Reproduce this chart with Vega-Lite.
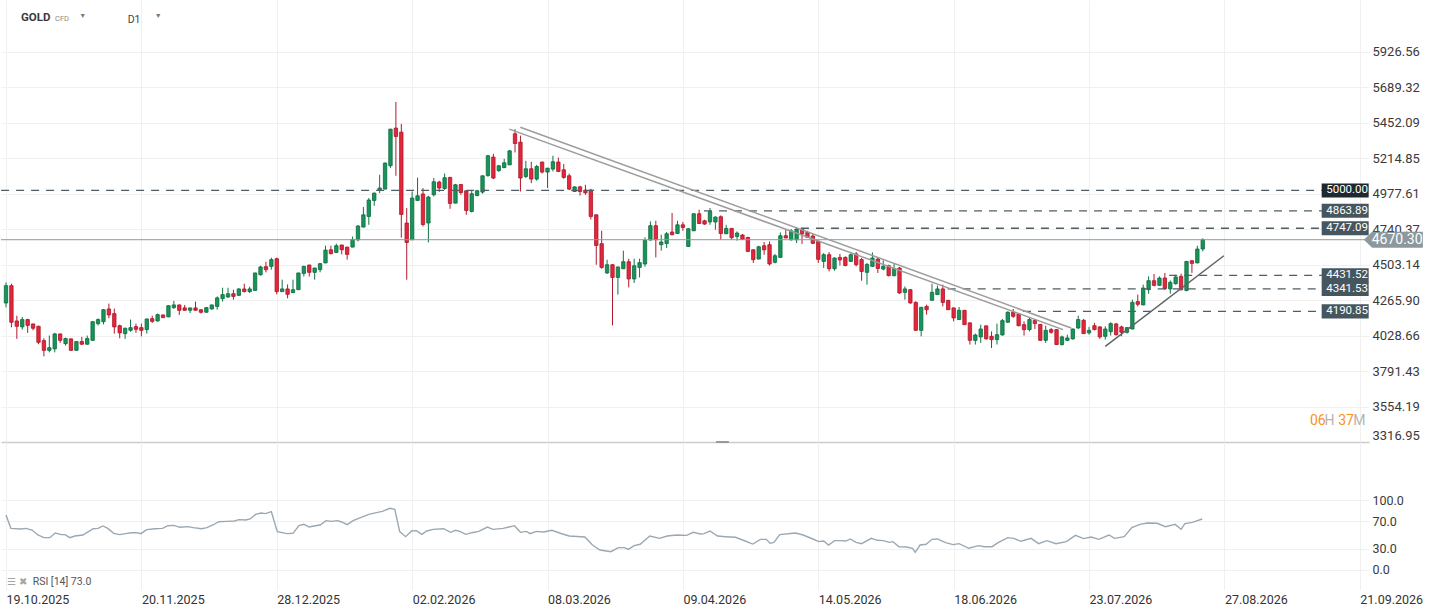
{
  "$schema": "https://vega.github.io/schema/vega-lite/v6.json",
  "description": "GOLD CFD D1 candlestick chart with RSI panel",
  "padding": 0,
  "background": "white",
  "bounds": "flush",
  "spacing": 0,
  "config": {
    "view": {"stroke": null},
    "font": "Roboto",
    "scale": {"continuousPadding": 0},
    "axis": {"grid": true, "gridColor": "#f0f0f0", "ticks": false, "domain": false, "labelFont": "Roboto", "labelFontSize": 13, "labelColor": "#3a3a3a"}
  },
  "datasets": {
    "candles": [
      {"i":0,"o":4247,"h":4385,"l":4218,"c":4363},{"i":1,"o":4363,"h":4376,"l":4084,"c":4118},{"i":2,"o":4127,"h":4162,"l":4007,"c":4091},{"i":3,"o":4087,"h":4154,"l":4069,"c":4136},{"i":4,"o":4136,"h":4142,"l":4047,"c":4097},
      {"i":5,"o":4107,"h":4109,"l":4064,"c":4078},{"i":6,"o":4091,"h":4095,"l":3971,"c":3984},{"i":7,"o":3995,"h":4011,"l":3890,"c":3930},{"i":8,"o":3930,"h":4029,"l":3917,"c":3948},{"i":9,"o":3940,"h":4047,"l":3917,"c":4040},
      {"i":10,"o":4040,"h":4042,"l":3980,"c":3997},{"i":11,"o":3975,"h":4015,"l":3962,"c":4009},{"i":12,"o":4007,"h":4009,"l":3928,"c":3930},{"i":13,"o":3930,"h":3990,"l":3928,"c":3989},{"i":14,"o":3989,"h":4020,"l":3968,"c":3971},
      {"i":15,"o":3971,"h":4029,"l":3968,"c":4009},{"i":16,"o":3997,"h":4124,"l":3995,"c":4122},{"i":17,"o":4109,"h":4144,"l":4097,"c":4136},{"i":18,"o":4122,"h":4207,"l":4104,"c":4202},{"i":19,"o":4207,"h":4243,"l":4144,"c":4167},
      {"i":20,"o":4176,"h":4210,"l":4042,"c":4087},{"i":21,"o":4095,"h":4102,"l":4011,"c":4047},{"i":22,"o":4042,"h":4082,"l":4007,"c":4078},{"i":23,"o":4064,"h":4136,"l":4055,"c":4082},{"i":24,"o":4089,"h":4109,"l":4047,"c":4071},
      {"i":25,"o":4082,"h":4109,"l":4024,"c":4064},{"i":26,"o":4069,"h":4142,"l":4042,"c":4140},{"i":27,"o":4142,"h":4162,"l":4114,"c":4124},{"i":28,"o":4127,"h":4176,"l":4122,"c":4169},{"i":29,"o":4167,"h":4169,"l":4147,"c":4149},
      {"i":30,"o":4154,"h":4231,"l":4152,"c":4229},{"i":31,"o":4216,"h":4261,"l":4207,"c":4234},{"i":32,"o":4234,"h":4236,"l":4167,"c":4198},{"i":33,"o":4214,"h":4234,"l":4196,"c":4198},{"i":34,"o":4198,"h":4215,"l":4180,"c":4214},
      {"i":35,"o":4214,"h":4256,"l":4196,"c":4198},{"i":36,"o":4202,"h":4204,"l":4176,"c":4185},{"i":37,"o":4185,"h":4218,"l":4183,"c":4216},{"i":38,"o":4207,"h":4236,"l":4202,"c":4234},{"i":39,"o":4224,"h":4291,"l":4202,"c":4281},
      {"i":40,"o":4276,"h":4349,"l":4256,"c":4303},{"i":41,"o":4287,"h":4349,"l":4281,"c":4309},{"i":42,"o":4309,"h":4336,"l":4269,"c":4291},{"i":43,"o":4298,"h":4345,"l":4296,"c":4341},{"i":44,"o":4341,"h":4376,"l":4318,"c":4323},
      {"i":45,"o":4323,"h":4356,"l":4314,"c":4341},{"i":46,"o":4331,"h":4449,"l":4330,"c":4448},{"i":47,"o":4436,"h":4496,"l":4430,"c":4488},{"i":48,"o":4490,"h":4523,"l":4452,"c":4470},{"i":49,"o":4492,"h":4550,"l":4470,"c":4537},
      {"i":50,"o":4543,"h":4550,"l":4305,"c":4323},{"i":51,"o":4323,"h":4403,"l":4321,"c":4341},{"i":52,"o":4341,"h":4371,"l":4278,"c":4305},{"i":53,"o":4316,"h":4403,"l":4314,"c":4336},{"i":54,"o":4336,"h":4449,"l":4334,"c":4448},
      {"i":55,"o":4445,"h":4496,"l":4424,"c":4492},{"i":56,"o":4501,"h":4503,"l":4424,"c":4452},{"i":57,"o":4452,"h":4483,"l":4403,"c":4481},{"i":58,"o":4470,"h":4515,"l":4452,"c":4510},{"i":59,"o":4515,"h":4630,"l":4513,"c":4601},
      {"i":60,"o":4603,"h":4630,"l":4572,"c":4577},{"i":61,"o":4585,"h":4644,"l":4581,"c":4630},{"i":62,"o":4635,"h":4637,"l":4572,"c":4603},{"i":63,"o":4621,"h":4623,"l":4537,"c":4572},{"i":64,"o":4621,"h":4692,"l":4620,"c":4672},
      {"i":65,"o":4670,"h":4768,"l":4659,"c":4762},{"i":66,"o":4755,"h":4889,"l":4753,"c":4837},{"i":67,"o":4826,"h":4949,"l":4770,"c":4936},{"i":68,"o":4933,"h":4986,"l":4897,"c":4982},{"i":69,"o":5000,"h":5105,"l":4982,"c":5016},
      {"i":70,"o":5009,"h":5187,"l":5008,"c":5183},{"i":71,"o":5165,"h":5412,"l":5151,"c":5410},{"i":72,"o":5417,"h":5592,"l":5098,"c":5361},{"i":73,"o":5390,"h":5445,"l":4684,"c":4839},{"i":74,"o":4782,"h":4882,"l":4403,"c":4652},
      {"i":75,"o":4670,"h":4993,"l":4668,"c":4949},{"i":76,"o":4933,"h":5085,"l":4931,"c":4964},{"i":77,"o":4976,"h":5016,"l":4759,"c":4772},{"i":78,"o":4782,"h":4964,"l":4652,"c":4956},{"i":79,"o":4971,"h":5083,"l":4960,"c":5058},
      {"i":80,"o":5056,"h":5065,"l":4990,"c":5016},{"i":81,"o":5013,"h":5113,"l":5004,"c":5085},{"i":82,"o":5087,"h":5091,"l":4877,"c":4913},{"i":83,"o":4915,"h":5044,"l":4914,"c":5038},{"i":84,"o":5040,"h":5042,"l":4971,"c":4986},
      {"i":85,"o":4998,"h":5000,"l":4837,"c":4866},{"i":86,"o":4859,"h":5004,"l":4853,"c":4978},{"i":87,"o":4966,"h":5004,"l":4960,"c":4998},{"i":88,"o":4989,"h":5100,"l":4978,"c":5098},{"i":89,"o":5100,"h":5238,"l":5091,"c":5232},
      {"i":90,"o":5223,"h":5245,"l":5076,"c":5083},{"i":91,"o":5133,"h":5171,"l":5123,"c":5165},{"i":92,"o":5153,"h":5212,"l":5149,"c":5185},{"i":93,"o":5171,"h":5270,"l":5170,"c":5265},{"i":94,"o":5379,"h":5410,"l":5254,"c":5314},
      {"i":95,"o":5323,"h":5367,"l":4993,"c":5083},{"i":96,"o":5093,"h":5198,"l":5083,"c":5145},{"i":97,"o":5145,"h":5192,"l":5049,"c":5076},{"i":98,"o":5076,"h":5171,"l":5065,"c":5160},{"i":99,"o":5190,"h":5192,"l":5113,"c":5123},
      {"i":100,"o":5123,"h":5151,"l":5016,"c":5149},{"i":101,"o":5143,"h":5232,"l":5127,"c":5192},{"i":102,"o":5190,"h":5220,"l":5123,"c":5127},{"i":103,"o":5138,"h":5176,"l":5078,"c":5087},{"i":104,"o":5098,"h":5113,"l":5002,"c":5009},
      {"i":105,"o":4993,"h":5026,"l":4991,"c":5024},{"i":106,"o":5024,"h":5031,"l":4966,"c":4993},{"i":107,"o":5002,"h":5038,"l":4971,"c":4984},{"i":108,"o":5002,"h":5011,"l":4806,"c":4826},{"i":109,"o":4837,"h":4840,"l":4503,"c":4632},
      {"i":110,"o":4644,"h":4730,"l":4476,"c":4485},{"i":111,"o":4448,"h":4537,"l":4441,"c":4503},{"i":112,"o":4503,"h":4508,"l":4097,"c":4418},{"i":113,"o":4418,"h":4490,"l":4303,"c":4488},{"i":114,"o":4476,"h":4597,"l":4475,"c":4523},
      {"i":115,"o":4523,"h":4543,"l":4351,"c":4408},{"i":116,"o":4408,"h":4543,"l":4381,"c":4496},{"i":117,"o":4485,"h":4543,"l":4418,"c":4517},{"i":118,"o":4508,"h":4686,"l":4490,"c":4666},{"i":119,"o":4668,"h":4793,"l":4666,"c":4764},
      {"i":120,"o":4764,"h":4797,"l":4552,"c":4670},{"i":121,"o":4637,"h":4704,"l":4597,"c":4655},{"i":122,"o":4645,"h":4722,"l":4615,"c":4710},{"i":123,"o":4722,"h":4849,"l":4699,"c":4704},{"i":124,"o":4712,"h":4797,"l":4708,"c":4770},
      {"i":125,"o":4770,"h":4789,"l":4730,"c":4752},{"i":126,"o":4625,"h":4746,"l":4623,"c":4744},{"i":127,"o":4730,"h":4846,"l":4728,"c":4844},{"i":128,"o":4844,"h":4871,"l":4775,"c":4779},{"i":129,"o":4797,"h":4804,"l":4770,"c":4775},
      {"i":130,"o":4789,"h":4882,"l":4770,"c":4859},{"i":131,"o":4789,"h":4826,"l":4737,"c":4822},{"i":132,"o":4824,"h":4833,"l":4670,"c":4712},{"i":133,"o":4710,"h":4770,"l":4709,"c":4746},{"i":134,"o":4746,"h":4748,"l":4670,"c":4684},
      {"i":135,"o":4692,"h":4726,"l":4664,"c":4715},{"i":136,"o":4702,"h":4708,"l":4668,"c":4672},{"i":137,"o":4686,"h":4688,"l":4588,"c":4592},{"i":138,"o":4603,"h":4605,"l":4515,"c":4537},{"i":139,"o":4541,"h":4630,"l":4539,"c":4623},
      {"i":140,"o":4630,"h":4655,"l":4570,"c":4603},{"i":141,"o":4637,"h":4659,"l":4498,"c":4508},{"i":142,"o":4519,"h":4575,"l":4512,"c":4563},{"i":143,"o":4552,"h":4719,"l":4548,"c":4697},{"i":144,"o":4697,"h":4737,"l":4680,"c":4682},
      {"i":145,"o":4670,"h":4742,"l":4664,"c":4730},{"i":146,"o":4670,"h":4750,"l":4648,"c":4742},{"i":147,"o":4742,"h":4750,"l":4642,"c":4708},{"i":148,"o":4719,"h":4730,"l":4682,"c":4686},{"i":149,"o":4695,"h":4708,"l":4642,"c":4646},
      {"i":150,"o":4659,"h":4663,"l":4515,"c":4539},{"i":151,"o":4525,"h":4581,"l":4481,"c":4570},{"i":152,"o":4570,"h":4588,"l":4458,"c":4476},{"i":153,"o":4476,"h":4552,"l":4463,"c":4548},{"i":154,"o":4552,"h":4575,"l":4498,"c":4535},
      {"i":155,"o":4552,"h":4559,"l":4492,"c":4498},{"i":156,"o":4525,"h":4578,"l":4523,"c":4570},{"i":157,"o":4575,"h":4588,"l":4492,"c":4503},{"i":158,"o":4537,"h":4548,"l":4396,"c":4458},{"i":159,"o":4452,"h":4515,"l":4370,"c":4505},
      {"i":160,"o":4492,"h":4585,"l":4490,"c":4548},{"i":161,"o":4541,"h":4548,"l":4448,"c":4478},{"i":162,"o":4474,"h":4532,"l":4465,"c":4492},{"i":163,"o":4496,"h":4503,"l":4425,"c":4430},{"i":164,"o":4430,"h":4510,"l":4425,"c":4478},
      {"i":165,"o":4481,"h":4488,"l":4309,"c":4314},{"i":166,"o":4318,"h":4358,"l":4269,"c":4341},{"i":167,"o":4336,"h":4338,"l":4242,"c":4247},{"i":168,"o":4251,"h":4258,"l":4062,"c":4064},{"i":169,"o":4064,"h":4220,"l":4024,"c":4218},
      {"i":170,"o":4224,"h":4236,"l":4169,"c":4202},{"i":171,"o":4265,"h":4376,"l":4263,"c":4318},{"i":172,"o":4303,"h":4363,"l":4301,"c":4341},{"i":173,"o":4341,"h":4370,"l":4224,"c":4251},{"i":174,"o":4265,"h":4267,"l":4200,"c":4202},
      {"i":175,"o":4214,"h":4216,"l":4124,"c":4147},{"i":176,"o":4136,"h":4220,"l":4134,"c":4198},{"i":177,"o":4198,"h":4200,"l":4100,"c":4102},{"i":178,"o":4114,"h":4117,"l":3969,"c":3997},{"i":179,"o":3997,"h":4042,"l":3969,"c":4033},
      {"i":180,"o":4020,"h":4102,"l":3980,"c":4073},{"i":181,"o":4094,"h":4096,"l":4002,"c":4007},{"i":182,"o":4024,"h":4057,"l":3946,"c":4002},{"i":183,"o":4002,"h":4109,"l":3969,"c":4035},{"i":184,"o":4033,"h":4140,"l":4029,"c":4129},
      {"i":185,"o":4118,"h":4191,"l":4114,"c":4185},{"i":186,"o":4185,"h":4207,"l":4147,"c":4158},{"i":187,"o":4174,"h":4180,"l":4091,"c":4095},{"i":188,"o":4102,"h":4124,"l":4029,"c":4069},{"i":189,"o":4069,"h":4147,"l":4057,"c":4136},
      {"i":190,"o":4131,"h":4136,"l":4073,"c":4109},{"i":191,"o":4104,"h":4106,"l":3995,"c":3997},{"i":192,"o":3997,"h":4095,"l":3980,"c":4064},{"i":193,"o":4069,"h":4080,"l":4042,"c":4051},{"i":194,"o":4069,"h":4071,"l":3967,"c":3969},
      {"i":195,"o":3969,"h":4029,"l":3962,"c":4020},{"i":196,"o":3997,"h":4035,"l":3993,"c":4013},{"i":197,"o":4007,"h":4076,"l":4002,"c":4073},{"i":198,"o":4080,"h":4162,"l":4073,"c":4136},{"i":199,"o":4131,"h":4140,"l":4040,"c":4042},
      {"i":200,"o":4047,"h":4087,"l":4035,"c":4064},{"i":201,"o":4095,"h":4114,"l":4064,"c":4069},{"i":202,"o":4087,"h":4091,"l":4007,"c":4020},{"i":203,"o":4024,"h":4091,"l":4002,"c":4073},{"i":204,"o":4055,"h":4118,"l":4029,"c":4109},
      {"i":205,"o":4107,"h":4114,"l":4029,"c":4035},{"i":206,"o":4087,"h":4095,"l":4024,"c":4051},{"i":207,"o":4051,"h":4087,"l":4042,"c":4082},{"i":208,"o":4073,"h":4269,"l":4071,"c":4251},{"i":209,"o":4256,"h":4303,"l":4224,"c":4238},
      {"i":210,"o":4234,"h":4370,"l":4232,"c":4347},{"i":211,"o":4336,"h":4425,"l":4309,"c":4396},{"i":212,"o":4396,"h":4441,"l":4358,"c":4365},{"i":213,"o":4365,"h":4425,"l":4363,"c":4414},{"i":214,"o":4414,"h":4448,"l":4336,"c":4343},
      {"i":215,"o":4341,"h":4398,"l":4309,"c":4385},{"i":216,"o":4376,"h":4436,"l":4370,"c":4421},{"i":217,"o":4425,"h":4443,"l":4331,"c":4336},{"i":218,"o":4331,"h":4527,"l":4325,"c":4525},{"i":219,"o":4530,"h":4532,"l":4448,"c":4512},
      {"i":220,"o":4515,"h":4630,"l":4513,"c":4608},{"i":221,"o":4608,"h":4680,"l":4592,"c":4670.3}
    ],
    "levels": [
      {"v":5000.00,"s":-0.9,"lab":"5000.00"},
      {"v":4863.89,"s":128.9,"lab":"4863.89"},
      {"v":4747.09,"s":146.8,"lab":"4747.09"},
      {"v":4431.52,"s":214.8,"lab":"4431.52"},
      {"v":4341.53,"s":173.9,"lab":"4341.53"},
      {"v":4190.85,"s":187.8,"lab":"4190.85"}
    ],
    "quote": [{"p":4670.30,"lab":"4670.30"}],
    "trend": [
      {"line":"A","i":92.95,"p":5410},{"line":"A","i":195.2,"p":4069},
      {"line":"B","i":94.98,"p":5423},{"line":"B","i":196.7,"p":4080},
      {"line":"C","i":203.0,"p":3957},{"line":"C","i":224.9,"p":4563}
    ],
    "rsi": [
      {"i":0,"v":78.6},{"i":0.9,"v":59.5},{"i":2.7,"v":58.6},{"i":3.7,"v":59.5},{"i":4.8,"v":57.1},{"i":5.9,"v":50},{"i":7.0,"v":46.2},{"i":8.1,"v":46.2},{"i":9.1,"v":52.9},{"i":10.2,"v":50.5},
      {"i":10.9,"v":50.5},{"i":11.8,"v":46.2},{"i":12.7,"v":48.6},{"i":14.2,"v":50},{"i":15.0,"v":53.8},{"i":16.1,"v":59},{"i":17.0,"v":59.5},{"i":17.9,"v":62.9},{"i":18.8,"v":59.5},{"i":19.9,"v":52.4},
      {"i":21.0,"v":50.5},{"i":22.1,"v":51.9},{"i":23.1,"v":53.3},{"i":24.2,"v":53.3},{"i":24.9,"v":51.9},{"i":26.0,"v":57.6},{"i":27.5,"v":59},{"i":28.9,"v":59.5},{"i":29.9,"v":63.3},{"i":31.0,"v":63.8},
      {"i":32.1,"v":61},{"i":33.6,"v":61.9},{"i":34.6,"v":60.5},{"i":36.1,"v":59},{"i":37.1,"v":60.5},{"i":38.2,"v":64.3},{"i":39.3,"v":69},{"i":40.8,"v":69.5},{"i":42.2,"v":70},{"i":43.0,"v":71.9},
      {"i":44.3,"v":71.4},{"i":45.1,"v":72.9},{"i":46.1,"v":79.5},{"i":47.1,"v":81.4},{"i":47.9,"v":80.5},{"i":49.0,"v":83.3},{"i":50.1,"v":54.8},{"i":51.9,"v":51.9},{"i":53.0,"v":52.4},{"i":54.1,"v":63.3},
      {"i":55.0,"v":65.2},{"i":56.0,"v":61.4},{"i":56.9,"v":62.9},{"i":58.0,"v":64.3},{"i":59.1,"v":70.5},{"i":60.1,"v":69.5},{"i":61.2,"v":70.5},{"i":62.0,"v":68.6},{"i":63.0,"v":64.8},{"i":64.1,"v":70.5},
      {"i":65.6,"v":75.2},{"i":67.0,"v":79.5},{"i":68.4,"v":81.9},{"i":69.5,"v":83.8},{"i":70.9,"v":88.1},{"i":71.8,"v":86.7},{"i":72.7,"v":54.8},{"i":73.8,"v":47.6},{"i":74.9,"v":55.7},{"i":75.8,"v":56.2},
      {"i":76.8,"v":50.9},{"i":77.7,"v":55.7},{"i":78.9,"v":58.1},{"i":80.8,"v":59},{"i":82.1,"v":53.8},{"i":83.0,"v":56.7},{"i":83.8,"v":55.2},{"i":84.9,"v":50.9},{"i":86.0,"v":53.3},{"i":87.3,"v":55.2},
      {"i":88.9,"v":61.4},{"i":89.9,"v":58.1},{"i":91.8,"v":59.5},{"i":92.9,"v":61.4},{"i":93.9,"v":63.3},{"i":95.0,"v":53.8},{"i":96.1,"v":55.2},{"i":96.8,"v":51.9},{"i":97.9,"v":55.2},{"i":99.3,"v":54.3},
      {"i":100.8,"v":56.7},{"i":102.5,"v":52.1},{"i":104.0,"v":48.6},{"i":106.9,"v":47.1},{"i":108.3,"v":35.7},{"i":109.7,"v":28.6},{"i":111.7,"v":26.2},{"i":113.1,"v":31.9},{"i":114.2,"v":31.9},{"i":114.9,"v":29.5},
      {"i":116.0,"v":34.8},{"i":117.1,"v":36.7},{"i":118.9,"v":48.6},{"i":120.7,"v":45.2},{"i":122.1,"v":48.6},{"i":123.9,"v":50},{"i":125.7,"v":49.5},{"i":126.9,"v":53.8},{"i":128.2,"v":51.4},{"i":128.9,"v":51.9},
      {"i":130.0,"v":55.7},{"i":131.4,"v":48.6},{"i":132.9,"v":47.6},{"i":134.7,"v":46.7},{"i":136.5,"v":41.4},{"i":137.9,"v":37.1},{"i":139.3,"v":43.8},{"i":140.4,"v":43.8},{"i":141.1,"v":38.1},{"i":141.8,"v":39.5},
      {"i":142.9,"v":50.5},{"i":145.8,"v":52.9},{"i":147.2,"v":50},{"i":149.0,"v":44.3},{"i":150.1,"v":40.5},{"i":151.0,"v":41.4},{"i":151.9,"v":35.7},{"i":153.0,"v":41.9},{"i":154.1,"v":41.9},{"i":155.1,"v":41.4},
      {"i":155.9,"v":44.3},{"i":157.0,"v":39.5},{"i":158.0,"v":37.6},{"i":159.8,"v":45.2},{"i":160.9,"v":42.4},{"i":162.0,"v":41.9},{"i":163.1,"v":39.5},{"i":163.8,"v":40.5},{"i":164.9,"v":33.3},{"i":166.3,"v":32.9},
      {"i":167.4,"v":31},{"i":167.9,"v":25.2},{"i":168.8,"v":35.7},{"i":169.9,"v":36.7},{"i":171.0,"v":43.8},{"i":172.0,"v":44.3},{"i":173.5,"v":39.0},{"i":174.9,"v":36.2},{"i":176.0,"v":37.6},{"i":177.8,"v":31},
      {"i":179.6,"v":34.8},{"i":180.7,"v":33.3},{"i":182.1,"v":33.3},{"i":183.2,"v":39.0},{"i":185.0,"v":46.2},{"i":186.1,"v":45.2},{"i":187.4,"v":41},{"i":189.3,"v":45.2},{"i":190.7,"v":37.6},{"i":192.2,"v":41.9},
      {"i":193.9,"v":37.6},{"i":195.8,"v":40.5},{"i":197.5,"v":49.5},{"i":199.0,"v":44.8},{"i":200.4,"v":47.1},{"i":201.8,"v":43.8},{"i":203.7,"v":50},{"i":204.7,"v":45.2},{"i":206.5,"v":47.6},{"i":207.9,"v":60.5},
      {"i":209.4,"v":65.2},{"i":210.8,"v":67.1},{"i":212.6,"v":66.7},{"i":214.1,"v":61.9},{"i":215.9,"v":65.2},{"i":217.0,"v":58.1},{"i":217.7,"v":66.2},{"i":219.1,"v":68.1},{"i":220.9,"v":72.9}
    ]
  },
  "vconcat": [
    {
      "width": 1368,
      "height": 442,
      "layer": [
        {
          "data": {"name": "candles"},
          "mark": {"type": "rule", "strokeWidth": 1},
          "encoding": {
            "x": {"field": "i", "type": "quantitative", "title": null, "scale": {"domain": [-0.923, 251.7], "nice": false, "zero": false, "padding": 0},
              "axis": {"orient": "bottom", "values": [0,25,50,75,100,125,150,175,200,225,250], "labels": false, "grid": true, "domain": true, "domainColor": "#cccccc", "domainWidth": 1.5, "minExtent": 0, "maxExtent": 0}},
            "y": {"field": "l", "type": "quantitative", "title": null, "scale": {"domain": [3316.95, 6274.1], "nice": false, "zero": false, "padding": 0},
              "axis": {"orient": "right", "values": [3316.95,3554.19,3791.43,4028.66,4265.90,4503.14,4740.37,4977.61,5214.85,5452.09,5689.32,5926.56], "format": ".2f", "labelPadding": 3, "labelFlush": true}},
            "y2": {"field": "h"},
            "color": {"condition": {"test": "datum.c >= datum.o", "value": "#0f7443"}, "value": "#b3182c"}
          }
        },
        {
          "data": {"name": "candles"},
          "mark": {"type": "bar", "width": 3.4, "strokeWidth": 0.8},
          "encoding": {
            "x": {"field": "i", "type": "quantitative", "title": null},
            "y": {"field": "o", "type": "quantitative", "title": null},
            "y2": {"field": "c"},
            "fill": {"condition": {"test": "datum.c >= datum.o", "value": "#17945a"}, "value": "#e3263c"},
            "stroke": {"condition": {"test": "datum.c >= datum.o", "value": "#0d6b3e"}, "value": "#a9172a"}
          }
        },
        {
          "data": {"name": "levels"},
          "mark": {"type": "rule", "strokeDash": [8, 7], "strokeWidth": 1.3, "color": "#4f5d67"},
          "encoding": {
            "x": {"field": "s", "type": "quantitative", "title": null},
            "x2": {"datum": 243},
            "y": {"field": "v", "type": "quantitative", "title": null}
          }
        },
        {
          "data": {"name": "quote"},
          "mark": {"type": "rule", "strokeWidth": 1, "color": "#8d989e"},
          "encoding": {
            "y": {"field": "p", "type": "quantitative", "title": null}
          }
        },
        {
          "data": {"name": "trend"},
          "mark": {"type": "line", "strokeWidth": 1.5},
          "encoding": {
            "x": {"field": "i", "type": "quantitative", "title": null},
            "y": {"field": "p", "type": "quantitative", "title": null},
            "color": {"field": "line", "type": "nominal", "legend": null, "scale": {"domain": ["A", "B", "C"], "range": ["#9c9c9c", "#9c9c9c", "#5f6368"]}}
          }
        },
        {
          "data": {"name": "levels"},
          "mark": {"type": "point", "shape": "M-1,-0.3H1V0.3H-1Z", "size": 2209, "filled": true, "opacity": 1, "strokeWidth": 0},
          "encoding": {
            "x": {"datum": 247.3, "type": "quantitative", "title": null},
            "y": {"field": "v", "type": "quantitative", "title": null},
            "fill": {"condition": {"test": "datum.v == 5000", "value": "#1d2830"}, "value": "#46565f"}
          }
        },
        {
          "data": {"name": "levels"},
          "mark": {"type": "text", "align": "left", "baseline": "middle", "fontSize": 11.5, "color": "#ffffff"},
          "encoding": {
            "x": {"datum": 243.8, "type": "quantitative", "title": null},
            "y": {"field": "v", "type": "quantitative", "title": null},
            "text": {"field": "lab"}
          }
        },
        {
          "data": {"name": "quote"},
          "mark": {"type": "point", "shape": "M-1,0L-0.72,-0.271H1V0.271H-0.72Z", "size": 3481, "filled": true, "opacity": 1, "strokeWidth": 0, "color": "#8c989e"},
          "encoding": {
            "x": {"datum": 256.2, "type": "quantitative", "title": null},
            "y": {"field": "p", "type": "quantitative", "title": null}
          }
        },
        {
          "data": {"name": "quote"},
          "mark": {"type": "text", "align": "center", "baseline": "middle", "fontSize": 14, "color": "#ffffff"},
          "encoding": {
            "x": {"datum": 256.9, "type": "quantitative", "title": null},
            "y": {"field": "p", "type": "quantitative", "title": null},
            "text": {"field": "lab"}
          }
        },
        {
          "data": {"values": [{}]},
          "mark": {"type": "text", "text": "GOLD", "align": "left", "baseline": "middle", "fontSize": 11.5, "fontWeight": "bold", "color": "#3b3b3b"},
          "encoding": {
            "x": {"datum": 2.77, "type": "quantitative", "title": null},
            "y": {"datum": 6152, "type": "quantitative", "title": null}
          }
        },
        {
          "data": {"values": [{}]},
          "mark": {"type": "text", "text": "CFD", "align": "left", "baseline": "middle", "fontSize": 7.5, "color": "#8a8a8a"},
          "encoding": {
            "x": {"datum": 9.05, "type": "quantitative", "title": null},
            "y": {"datum": 6147, "type": "quantitative", "title": null}
          }
        },
        {
          "data": {"values": [{}]},
          "mark": {"type": "text", "text": "▼", "align": "center", "baseline": "middle", "fontSize": 7, "color": "#7a7a7a"},
          "encoding": {
            "x": {"datum": 14.16, "type": "quantitative", "title": null},
            "y": {"datum": 6166, "type": "quantitative", "title": null}
          }
        },
        {
          "data": {"values": [{}]},
          "mark": {"type": "text", "text": "D1", "align": "left", "baseline": "middle", "fontSize": 10.5, "color": "#444444"},
          "encoding": {
            "x": {"datum": 22.47, "type": "quantitative", "title": null},
            "y": {"datum": 6138, "type": "quantitative", "title": null}
          }
        },
        {
          "data": {"values": [{}]},
          "mark": {"type": "text", "text": "▼", "align": "center", "baseline": "middle", "fontSize": 7, "color": "#7a7a7a"},
          "encoding": {
            "x": {"datum": 28.13, "type": "quantitative", "title": null},
            "y": {"datum": 6166, "type": "quantitative", "title": null}
          }
        },
        {
          "data": {"values": [{}]},
          "mark": {"type": "text", "text": "06", "align": "left", "baseline": "middle", "fontSize": 14, "color": "#f7931e"},
          "encoding": {
            "x": {"datum": 240.8, "type": "quantitative", "title": null},
            "y": {"datum": 3456, "type": "quantitative", "title": null}
          }
        },
        {
          "data": {"values": [{}]},
          "mark": {"type": "text", "text": "H", "align": "left", "baseline": "middle", "fontSize": 14, "color": "#b4b4b4"},
          "encoding": {
            "x": {"datum": 243.5, "type": "quantitative", "title": null},
            "y": {"datum": 3456, "type": "quantitative", "title": null}
          }
        },
        {
          "data": {"values": [{}]},
          "mark": {"type": "text", "text": "37", "align": "left", "baseline": "middle", "fontSize": 14, "color": "#f7931e"},
          "encoding": {
            "x": {"datum": 246.0, "type": "quantitative", "title": null},
            "y": {"datum": 3456, "type": "quantitative", "title": null}
          }
        },
        {
          "data": {"values": [{}]},
          "mark": {"type": "text", "text": "M", "align": "left", "baseline": "middle", "fontSize": 14, "color": "#b4b4b4"},
          "encoding": {
            "x": {"datum": 248.8, "type": "quantitative", "title": null},
            "y": {"datum": 3456, "type": "quantitative", "title": null}
          }
        }
      ]
    },
    {
      "width": 1368,
      "height": 148,
      "layer": [
        {
          "data": {"name": "rsi"},
          "mark": {"type": "line", "strokeWidth": 1.4, "color": "#9ba8b2"},
          "encoding": {
            "x": {"field": "i", "type": "quantitative", "title": null, "scale": {"domain": [-0.923, 251.7], "nice": false, "zero": false, "padding": 0},
              "axis": {"orient": "bottom", "values": [0,25,50,75,100,125,150,175,200,225,250], "labelAlign": "left", "labelPadding": 3, "labelFontSize": 12.5, "labelColor": "#333333", "grid": true, "labelFlush": false, "labelOverlap": false,
                "labelExpr": "['19.10.2025','20.11.2025','28.12.2025','02.02.2026','08.03.2026','09.04.2026','14.05.2026','18.06.2026','23.07.2026','27.08.2026','21.09.2026'][round(datum.value/25)]"}},
            "y": {"field": "v", "type": "quantitative", "title": null, "scale": {"domain": [-28.6, 182.9], "nice": false, "zero": false, "padding": 0},
              "axis": {"orient": "right", "values": [0, 30, 70, 100], "format": ".1f", "labelPadding": 3, "labelFontSize": 12.5}}
          }
        },
        {
          "data": {"values": [{}]},
          "mark": {"type": "text", "text": "☰ ✖", "align": "left", "baseline": "middle", "fontSize": 10, "color": "#a5a5a5", "font": "DejaVu Sans"},
          "encoding": {
            "x": {"datum": 0.18, "type": "quantitative", "title": null},
            "y": {"datum": -17.1, "type": "quantitative", "title": null}
          }
        },
        {
          "data": {"values": [{}]},
          "mark": {"type": "text", "text": "RSI [14] 73.0", "align": "left", "baseline": "middle", "fontSize": 10.5, "color": "#555555"},
          "encoding": {
            "x": {"datum": 4.93, "type": "quantitative", "title": null},
            "y": {"datum": -17.1, "type": "quantitative", "title": null}
          }
        },
        {
          "data": {"values": [{}]},
          "mark": {"type": "rule", "strokeWidth": 2, "color": "#9a9a9a"},
          "encoding": {
            "x": {"datum": 131.1, "type": "quantitative", "title": null},
            "x2": {"datum": 133.5},
            "y": {"datum": 182.9, "type": "quantitative", "title": null}
          }
        }
      ]
    }
  ]
}
